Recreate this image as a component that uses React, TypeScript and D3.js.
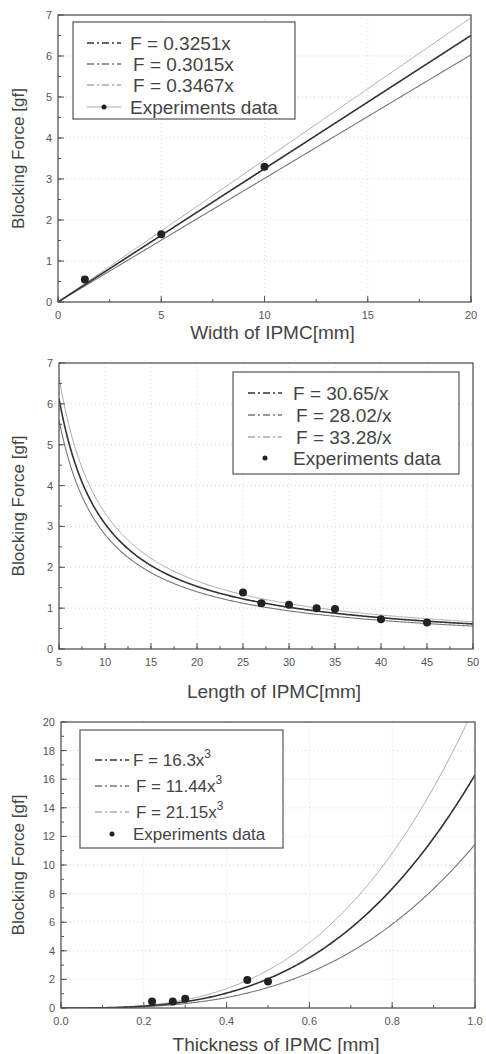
import { useEffect, useRef } from 'react';
import * as d3 from 'd3';

// panel 1 : width
const widthPoints = [[1.3, 0.55], [5, 1.65], [10, 3.3]];
const widthCoefs = [0.3251, 0.3015, 0.3467];
const widthLabels = ['F = 0.3251x', 'F = 0.3015x', 'F = 0.3467x'];
const widthXTicks = [0, 5, 10, 15, 20];
const widthYTicks = [0, 1, 2, 3, 4, 5, 6, 7];

// panel 2 : length
const lengthPoints = [[25, 1.38], [27, 1.12], [30, 1.08], [33, 1.0], [35, 0.98], [40, 0.73], [45, 0.65]];
const lengthCoefs = [30.65, 28.02, 33.28];
const lengthLabels = ['F = 30.65/x', 'F = 28.02/x', 'F = 33.28/x'];
const lengthXTicks = [5, 10, 15, 20, 25, 30, 35, 40, 45, 50];
const lengthYTicks = [0, 1, 2, 3, 4, 5, 6, 7];

// panel 3 : thickness
const thickPoints = [[0.22, 0.45], [0.27, 0.45], [0.3, 0.65], [0.45, 1.95], [0.5, 1.85]];
const thickCoefs = [16.3, 11.44, 21.15];
const thickLabels = ['F = 16.3x', 'F = 11.44x', 'F = 21.15x'];
const thickXTicks = [0, 0.2, 0.4, 0.6, 0.8, 1.0];
const thickYTicks = [0, 2, 4, 6, 8, 10, 12, 14, 16, 18, 20];

const lineColors = ['#333', '#777', '#aaa'];
const lineWidths = [1.6, 1.1, 1];
const legendDash = ['7,3,2,3', '7,3,2,3', '7,3,2,3'];

const W = 486;
const H = 1054;
const font = 'Liberation Sans, Arial, sans-serif';

const App = () => {
    const svgRef = useRef(null);

    useEffect(() => {
        const svg = d3.select(svgRef.current);
        svg.selectAll('*').remove();

        const drawPanel = (opts) => {
            const { box, xDomain, yDomain, xTicks, yTicks, xMinor, yMinor, xFmt, fn, coefs, points,
                labels, sup, xLabel, labelDy, legend } = opts;
            const g = svg.append('g');
            const x = d3.scaleLinear().domain(xDomain).range([box.l, box.r]);
            const y = d3.scaleLinear().domain(yDomain).range([box.b, box.t]);

            // faint grid
            g.selectAll('.gy').data(yTicks.slice(1, -1)).join('line')
                .attr('x1', box.l).attr('x2', box.r)
                .attr('y1', d => y(d)).attr('y2', d => y(d))
                .attr('stroke', '#d4d4d4').attr('stroke-dasharray', '1,3')
            g.selectAll('.gx').data(xTicks.slice(1, -1)).join('line')
                .attr('y1', box.t).attr('y2', box.b)
                .attr('x1', d => x(d)).attr('x2', d => x(d))
                .attr('stroke', '#e0e0e0').attr('stroke-dasharray', '1,3')

            const clipId = 'clip' + box.t;
            g.append('clipPath').attr('id', clipId).append('rect')
                .attr('x', box.l).attr('y', box.t).attr('width', box.r - box.l).attr('height', box.b - box.t);

            const line = d3.line().x(d => x(d[0])).y(d => y(d[1]));
            const xs = d3.range(0, 401).map(i => xDomain[0] + (xDomain[1] - xDomain[0]) * i / 400);
            [2, 1, 0].forEach(i => {
                g.append('path')
                    .attr('d', line(xs.map(v => [v, fn(coefs[i], v)])))
                    .attr('fill', 'none')
                    .attr('stroke', lineColors[i])
                    .attr('stroke-width', lineWidths[i])
                    .attr('clip-path', `url(#${clipId})`)
            });

            g.selectAll('circle.pt').data(points).join('circle')
                .attr('cx', d => x(d[0])).attr('cy', d => y(d[1]))
                .attr('r', 4).attr('fill', '#222')

            // frame
            g.append('rect')
                .attr('x', box.l).attr('y', box.t).attr('width', box.r - box.l).attr('height', box.b - box.t)
                .attr('fill', 'none').attr('stroke', '#555').attr('stroke-width', 1.3)

            // ticks
            const minorX = d3.range(xDomain[0], xDomain[1] + 1e-9, xMinor);
            const minorY = d3.range(yDomain[0], yDomain[1] + 1e-9, yMinor);
            g.selectAll('.mx').data(minorX).join('line')
                .attr('x1', d => x(d)).attr('x2', d => x(d))
                .attr('y1', box.b).attr('y2', box.b - 3).attr('stroke', '#555')
            g.selectAll('.my').data(minorY).join('line')
                .attr('y1', d => y(d)).attr('y2', d => y(d))
                .attr('x1', box.l).attr('x2', box.l + 3).attr('stroke', '#555')
            g.selectAll('.tx').data(xTicks).join('line')
                .attr('x1', d => x(d)).attr('x2', d => x(d))
                .attr('y1', box.b).attr('y2', box.b - 6).attr('stroke', '#555')
            g.selectAll('.ty').data(yTicks).join('line')
                .attr('y1', d => y(d)).attr('y2', d => y(d))
                .attr('x1', box.l).attr('x2', box.l + 6).attr('stroke', '#555')

            g.selectAll('.lx').data(xTicks).join('text')
                .attr('x', d => x(d)).attr('y', box.b + 17)
                .attr('text-anchor', 'middle')
                .style('font-size', '11px').style('font-family', font).attr('fill', '#555')
                .text(xFmt)
            g.selectAll('.ly').data(yTicks).join('text')
                .attr('x', box.l - 6).attr('y', d => y(d) + 4)
                .attr('text-anchor', 'end')
                .style('font-size', '11px').style('font-family', font).attr('fill', '#555')
                .text(d => d)

            g.append('text')
                .attr('x', (box.l + box.r) / 2 + 8).attr('y', box.b + labelDy)
                .attr('text-anchor', 'middle')
                .style('font-size', '19px').style('font-family', font).attr('fill', '#444')
                .text(xLabel)
            g.append('text')
                .attr('transform', `translate(24, ${(box.t + box.b) / 2}) rotate(-90)`)
                .attr('text-anchor', 'middle')
                .style('font-size', '17px').style('font-family', font).attr('fill', '#444')
                .text('Blocking Force [gf]')

            // legend
            g.append('rect')
                .attr('x', legend.x).attr('y', legend.y).attr('width', legend.w).attr('height', legend.h)
                .attr('fill', 'white').attr('stroke', '#555').attr('stroke-width', 1.2)
            const rows = [...labels, 'Experiments data'];
            rows.forEach((t, i) => {
                const cy = legend.rows[i];
                if (i < 3) {
                    g.append('line')
                        .attr('x1', legend.sx).attr('x2', legend.sx + 34)
                        .attr('y1', cy).attr('y2', cy)
                        .attr('stroke', lineColors[i]).attr('stroke-width', 1.3)
                        .attr('stroke-dasharray', legendDash[i])
                } else {
                    if (legend.ptLine) {
                        g.append('line')
                            .attr('x1', legend.sx).attr('x2', legend.sx + 34)
                            .attr('y1', cy).attr('y2', cy)
                            .attr('stroke', '#aaa').attr('stroke-width', 1)
                    }
                    g.append('circle').attr('cx', legend.sx + 17).attr('cy', cy).attr('r', 2.5).attr('fill', '#222')
                }
                const tx = g.append('text')
                    .attr('x', legend.tx + (i > 0 && i < 3 ? 3 : 0)).attr('y', cy + legend.fs * 0.36)
                    .style('font-size', legend.fs + 'px').style('font-family', font).attr('fill', '#444')
                    .text(t)
                if (sup && i < 3) {
                    tx.append('tspan').attr('dy', -8).style('font-size', '12px').text('3')
                }
            });
        };

        drawPanel({
            box: { l: 58, r: 471, t: 15, b: 302 },
            xDomain: [0, 20], yDomain: [0, 7],
            xTicks: widthXTicks, yTicks: widthYTicks, xMinor: 2.5, yMinor: 0.5,
            xFmt: d => d,
            fn: (c, v) => c * v, coefs: widthCoefs, points: widthPoints,
            labels: widthLabels, sup: false, xLabel: 'Width of IPMC[mm]', labelDy: 37,
            legend: { x: 73, y: 22, w: 222, h: 97, sx: 87, tx: 130, fs: 19, rows: [43, 64, 85, 107], ptLine: true },
        });
        drawPanel({
            box: { l: 59, r: 473, t: 363, b: 649 },
            xDomain: [5, 50], yDomain: [0, 7],
            xTicks: lengthXTicks, yTicks: lengthYTicks, xMinor: 2.5, yMinor: 0.5,
            xFmt: d => d,
            fn: (c, v) => c / v, coefs: lengthCoefs, points: lengthPoints,
            labels: lengthLabels, sup: false, xLabel: 'Length of IPMC[mm]', labelDy: 49,
            legend: { x: 233, y: 372, w: 226, h: 102, sx: 248, tx: 293, fs: 19, rows: [393, 415, 437, 458], ptLine: false },
        });
        drawPanel({
            box: { l: 61, r: 475, t: 722, b: 1008 },
            xDomain: [0, 1], yDomain: [0, 20],
            xTicks: thickXTicks, yTicks: thickYTicks, xMinor: 0.1, yMinor: 1,
            xFmt: d => d3.format('.1f')(d),
            fn: (c, v) => c * v * v * v, coefs: thickCoefs, points: thickPoints,
            labels: thickLabels, sup: true, xLabel: 'Thickness of IPMC [mm]', labelDy: 43,
            legend: { x: 80, y: 730, w: 203, h: 118, sx: 95, tx: 133, fs: 17, rows: [760, 786, 812, 834], ptLine: false },
        });
    }, []);

    return (
        <div>
            <svg ref={svgRef} width={W} height={H} style={{ position: 'absolute', left: 0, top: 0, background: 'white' }}></svg>
        </div>
    );
};

export default App;
